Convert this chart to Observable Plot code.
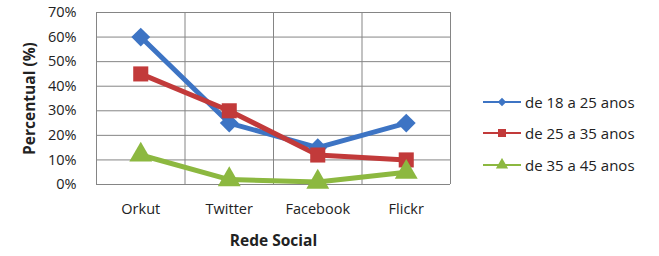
<!DOCTYPE html>
<html><head><meta charset="utf-8">
<script src="https://cdn.jsdelivr.net/npm/d3@7"></script>
<script src="https://cdn.jsdelivr.net/npm/@observablehq/plot@0.6"></script>
<style>
body{margin:0;background:#fff;}
#wrap{position:relative;width:659px;height:256px;font-family:"Open Sans",sans-serif;}
g[aria-label="y-axis label"] text, g[aria-label="x-axis label"] text{font-weight:bold;fill:#222;font-size:15.5px;}
#legend{position:absolute;left:483px;top:86px;font-size:15px;color:#222;}
#legend div{height:31.5px;display:flex;align-items:center;}
#legend svg{margin-right:4px;}
</style></head>
<body><div id="wrap"><div id="legend"></div></div>
<script>
const categories = ["Orkut","Twitter","Facebook","Flickr"];
const seriesNames = ["de 18 a 25 anos","de 25 a 35 anos","de 35 a 45 anos"];
const s1825 = [0.60, 0.25, 0.15, 0.25];
const s2535 = [0.45, 0.30, 0.12, 0.10];
const s3545 = [0.12, 0.02, 0.01, 0.05];
const yTicks = [0,0.1,0.2,0.3,0.4,0.5,0.6,0.7];
const colors = ["#3d74c4","#c23a3a","#8cb840"];
const symbols = ["diamond2","square","triangle"];
const legendSymbols = [d3.symbolDiamond2, d3.symbolSquare, d3.symbolTriangle];

const values = [s1825, s2535, s3545];
const data = [];
values.forEach((arr, si) => arr.forEach((v, i) => data.push({series: seriesNames[si], cat: i, value: v})));
const bounds = d3.range(categories.length + 1).map(i => i - 0.5);

const chart = Plot.plot({
  width: 659, height: 256,
  marginLeft: 96, marginRight: 209, marginTop: 12, marginBottom: 72,
  style: {fontFamily: "Open Sans, sans-serif", fontSize: "14.5px", color: "#222"},
  x: {type: "linear", domain: [-0.5, categories.length - 0.5], ticks: d3.range(categories.length), tickFormat: i => categories[i], tickSize: 0, tickPadding: 19, label: "Rede Social", labelAnchor: "center", labelArrow: "none", labelOffset: 61},
  y: {domain: [0, 0.7], ticks: yTicks, tickFormat: d3.format(".0%"), tickSize: 0, tickPadding: 20, label: "Percentual (%)", labelAnchor: "center", labelArrow: "none", labelOffset: 73},
  color: {domain: seriesNames, range: colors},
  symbol: {domain: seriesNames, range: symbols},
  marks: [
    Plot.ruleY(yTicks, {stroke: "#858585", strokeWidth: 1}),
    Plot.ruleX(bounds, {stroke: "#858585", strokeWidth: 1}),
    Plot.line(data, {x: "cat", y: "value", z: "series", stroke: "series", strokeWidth: 5, strokeLinejoin: "round"}),
    Plot.dot(data, {x: "cat", y: "value", symbol: "series", fill: "series", stroke: "none", r: 8.5})
  ]
});
document.getElementById("wrap").prepend(chart);

const legend = document.getElementById("legend");
seriesNames.forEach((name, i) => {
  const row = document.createElement("div");
  const sym = d3.symbol(legendSymbols[i], i === 0 ? 45 : 65)();
  row.innerHTML = `<svg width="38" height="14"><line x1="0" x2="38" y1="7" y2="7" stroke="${colors[i]}" stroke-width="2"/><path transform="translate(19,7)" d="${sym}" fill="${colors[i]}"/></svg><span>${name}</span>`;
  legend.appendChild(row);
});
</script></body></html>
